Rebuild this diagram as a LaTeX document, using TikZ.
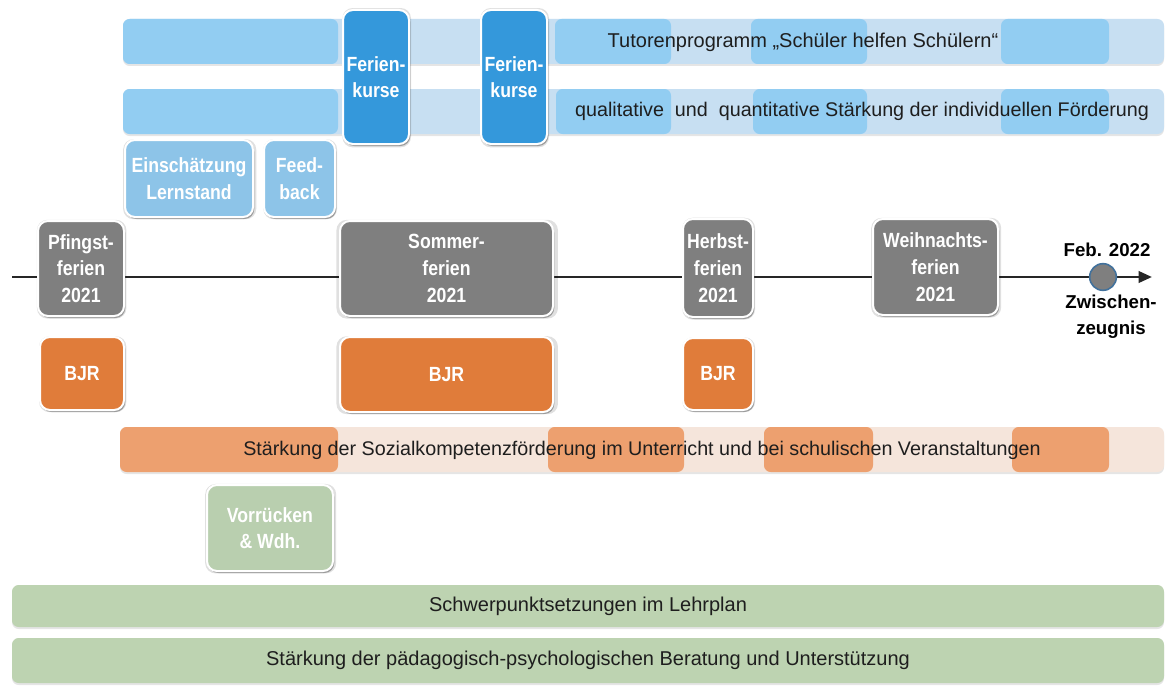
\documentclass[tikz,border=0pt]{standalone}
\usepackage{fontspec}
\setmainfont{Liberation Sans}
\newfontfamily\nbf[FakeStretch=0.86]{Liberation Sans}
\usetikzlibrary{fit,shadows,arrows.meta}
\definecolor{lbseg}{RGB}{146,205,242}
\definecolor{lbbg}{RGB}{199,223,242}
\definecolor{ferien}{RGB}{52,152,219}
\definecolor{einsch}{RGB}{141,196,232}
\definecolor{tlgray}{RGB}{127,127,127}
\definecolor{bjr}{RGB}{224,124,58}
\definecolor{soseg}{RGB}{237,160,111}
\definecolor{sobg}{RGB}{245,229,219}
\definecolor{grbar}{RGB}{189,211,177}
\definecolor{vgreen}{RGB}{185,207,175}
\definecolor{cblue}{RGB}{65,113,156}
\definecolor{txtdark}{RGB}{30,30,30}
\tikzset{
  wbox/.style={rounded corners=7.5pt, draw=white, line width=1.5pt, inner sep=0pt,
    text=white, align=center, font=\nbf\bfseries\fontsize{15.4}{20}\selectfont,
    drop shadow={shadow xshift=1pt, shadow yshift=-1.5pt, opacity=0.3, fill=black},
    drop shadow={shadow xshift=0.5pt, shadow yshift=-0.5pt, shadow scale=1.04, opacity=0.12, fill=black}},
  holiday/.style={wbox, fill=tlgray},
  bjrbox/.style={wbox, fill=bjr},
  ferienbox/.style={wbox, fill=ferien},
  einbox/.style={wbox, fill=einsch},
  vbox/.style={wbox, fill=vgreen},
  sz/.style n args={2}{minimum width=#1*0.75pt, minimum height=#2*0.75pt},
  barbg/.style={rounded corners=5pt, inner sep=0pt, draw=none,
    drop shadow={shadow xshift=0pt, shadow yshift=-1.5pt, opacity=0.1, fill=black}},
  barseg/.style={rounded corners=5pt, inner sep=0pt, draw=none},
  bartext/.style={inner sep=0pt, text=txtdark, font=\fontsize{15}{18}\selectfont},
  blabel/.style={inner sep=0pt, text=black, align=center, font=\bfseries\fontsize{14}{19.5}\selectfont},
}
\begin{document}
\begin{tikzpicture}[x=0.75pt,y=-0.75pt]
\useasboundingbox (0,0) rectangle (1166,685);
\fill[white] (0,0) rectangle (1166,685);

% ---- top bar 1: Tutorenprogramm
\node[barbg, fill=lbbg, fit={(123,19) (1164,64)}] (tutbg) {};
\node[barseg, fill=lbseg, fit={(123,19) (338,64)}] (tut1) {};
\node[barseg, fill=lbseg, fit={(555,19) (671,64)}] (tut2) {};
\node[barseg, fill=lbseg, fit={(751,19) (867,64)}] (tut3) {};
\node[barseg, fill=lbseg, fit={(1001,19) (1109,64)}] (tut4) {};
\node[bartext] (tuttext) at (803,42) {Tutorenprogramm „Schüler helfen Schülern“};

% ---- top bar 2: qualitative ...
\node[barbg, fill=lbbg, fit={(123,89) (1164,134)}] (qubg) {};
\node[barseg, fill=lbseg, fit={(123,89) (338,134)}] (qu1) {};
\node[barseg, fill=lbseg, fit={(556,89) (671,134)}] (qu2) {};
\node[barseg, fill=lbseg, fit={(753,89) (867,134)}] (qu3) {};
\node[barseg, fill=lbseg, fit={(1001,89) (1109,134)}] (qu4) {};
\node[bartext, font=\fontsize{14.8}{18}\selectfont] (qutext) at (862,111) {qualitative\ \ und\ \ quantitative Stärkung der individuellen Förderung};

% ---- Ferienkurse
\node[ferienbox, sz={66}{134}] (fk1) at (376,77) {Ferien-\\kurse};
\node[ferienbox, sz={66}{134}] (fk2) at (514,77) {Ferien-\\kurse};

% ---- Einschaetzung / Feedback
\node[einbox, sz={128}{77}] (ein) at (189,178.5) {Einschätzung\\Lernstand};
\node[einbox, sz={71}{77}] (feed) at (299.5,178.5) {Feed-\\back};

% ---- timeline
\coordinate (tls) at (12,277);
\coordinate (tle) at (1152,277);
\draw[line width=2pt, draw=black!85, -{Triangle[length=10pt,width=8.5pt]}] (tls) -- (tle);

\node[holiday, sz={86}{95}] (pfi) at (81,268.5) {Pfingst-\\ferien\\2021};
\node[holiday, sz={213}{95}] (som) at (446.5,268.5) {Sommer-\\ferien\\2021};
\node[holiday, sz={70}{98}] (her) at (718,268) {Herbst-\\ferien\\2021};
\node[holiday, sz={125}{96}] (wei) at (935.5,267) {Weihnachts-\\ferien\\2021};

\node[circle, fill=tlgray, draw=cblue, line width=1.2pt, minimum size=20pt, inner sep=0pt] (feb) at (1103,277) {};
\node[blabel] (febtext) at (1107,250) {Feb. 2022};
\node[blabel] (zwtext) at (1111,317) {Zwischen-\\zeugnis};

% ---- BJR
\node[bjrbox, sz={84}{73}] (bjr1) at (82,373.5) {BJR};
\node[bjrbox, sz={213}{75}] (bjr2) at (446.5,374.5) {BJR};
\node[bjrbox, sz={70}{72}] (bjr3) at (718,374) {BJR};

% ---- Sozialkompetenz bar
\node[barbg, fill=sobg, fit={(120,427) (1164,472)}] (sobar) {};
\node[barseg, fill=soseg, fit={(120,427) (338,472)}] (so1) {};
\node[barseg, fill=soseg, fit={(548,427) (684,472)}] (so2) {};
\node[barseg, fill=soseg, fit={(764,427) (873,472)}] (so3) {};
\node[barseg, fill=soseg, fit={(1012,427) (1109,472)}] (so4) {};
\node[bartext, font=\fontsize{14.8}{18}\selectfont] (sotext) at (642,450) {Stärkung der Sozialkompetenzförderung im Unterricht und bei schulischen Veranstaltungen};

% ---- Vorruecken
\node[vbox, sz={126}{86}] (vor) at (270,528) {Vorrücken\\\& Wdh.};

% ---- bottom bars
\node[barbg, fill=grbar, sz={1152}{42}, text=txtdark, font=\fontsize{15}{18}\selectfont] (schw) at (588,606) {Schwerpunktsetzungen im Lehrplan};
\node[barbg, fill=grbar, sz={1152}{45}, text=txtdark, font=\fontsize{15}{18}\selectfont] (bera) at (588,660.5) {Stärkung der pädagogisch-psychologischen Beratung und Unterstützung};
\end{tikzpicture}
\end{document}
